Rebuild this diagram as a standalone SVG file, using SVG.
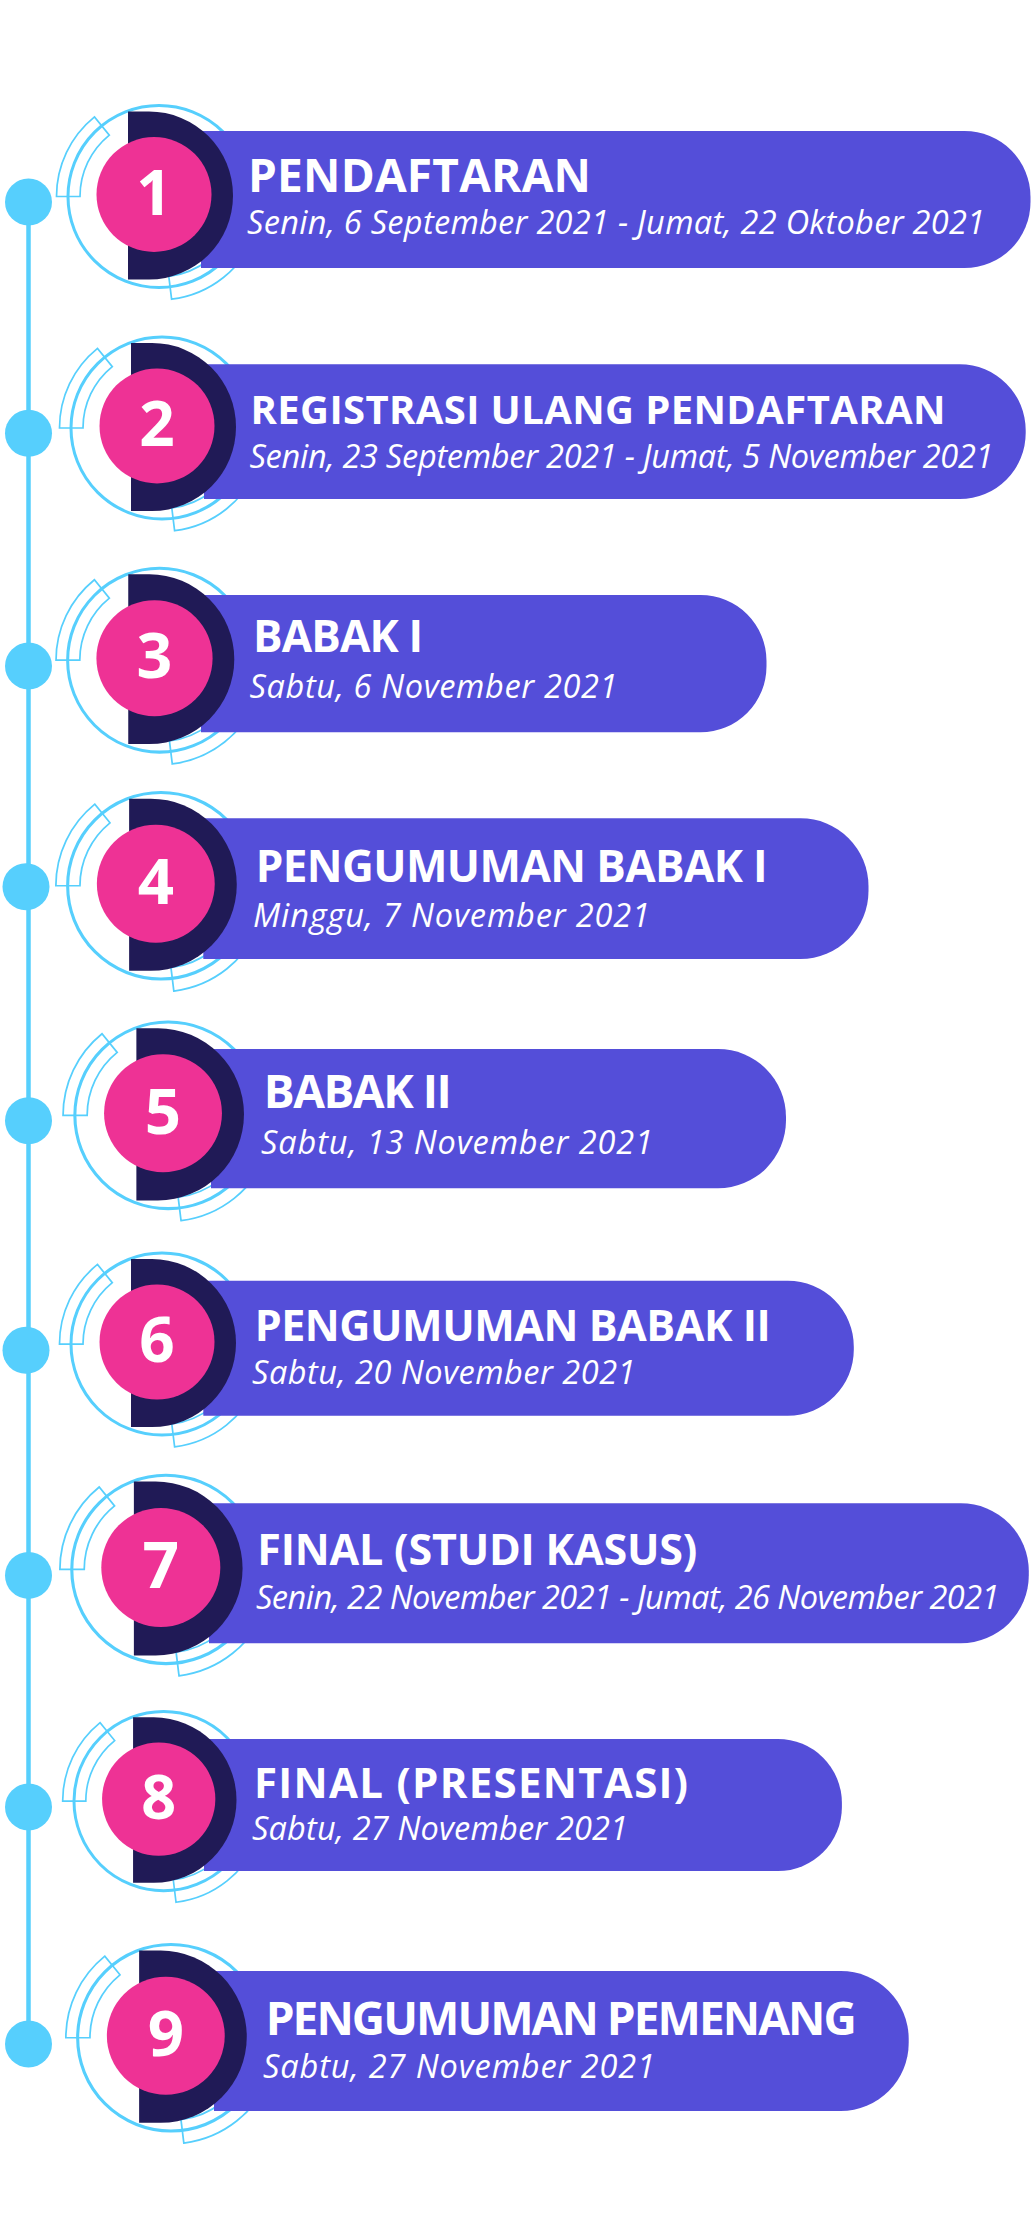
<svg xmlns="http://www.w3.org/2000/svg" xmlns:xlink="http://www.w3.org/1999/xlink" width="1035" height="2240" viewBox="0 0 1035 2240">
<style>
.ring{fill:none;stroke:#56cffd;stroke-width:3}
.band{fill:none;stroke:#56cffd;stroke-width:1.7}
.bar{fill:#544ed9}
.dee{fill:#201a56}
.pink{fill:#ee3295}
.dot{fill:#56cffd}
.num{font-family:"Open Sans","Noto Sans",sans-serif;font-weight:700;fill:#fff;text-anchor:middle}
.title{font-family:"Open Sans","Noto Sans",sans-serif;font-weight:700;fill:#fff}
.sub{font-family:"Open Sans","Noto Sans",sans-serif;font-style:italic;font-weight:400;fill:#fff;font-size:32.5px}
</style>
<defs>
<g id="rings">
<circle class="ring" cx="5" cy="2" r="91"/>
<path class="band" d="M-97.5 2A102.5 102.5 0 0 1-59.5-77.65L-44.7-59.4A79 79 0 0 0-74 2Z"/>
<path class="band" d="M102.26 37.4A103.5 103.5 0 0 1 17.6 104.7L14.8 81.9A80.5 80.5 0 0 0 80.6 29.5Z"/>
</g>
<g id="disc">
<path class="dee" d="M-26-83H-5A84 84 0 0 1-5 85H-26Z"/>
<circle class="pink" cx="0" cy="0" r="57.5"/>
</g>
</defs>
<rect width="1035" height="2240" fill="#fff"/>
<g id="connectors">
<line x1="28.5" y1="202" x2="28.5" y2="2044" stroke="#56cffd" stroke-width="4.5"/>
</g>
<g id="node-1">
<circle class="dot" cx="28.5" cy="202" r="23.5"/>
<use xlink:href="#rings" transform="translate(154 194.5)"/>
<path class="bar" d="M201 131H964.5A66 66 0 0 1 1030.5 197V202A66 66 0 0 1 964.5 268H201Z"/>
<use xlink:href="#disc" transform="translate(154 194.5)"/>
<text class="num" x="154" y="214.5" font-size="62">1</text>
<text class="title" x="248" y="191.7" font-size="46" textLength="343">PENDAFTARAN</text>
<text class="sub" x="247" y="234" textLength="738">Senin, 6 September 2021 - Jumat, 22 Oktober 2021</text>
</g>
<g id="node-2">
<circle class="dot" cx="28.5" cy="433.3" r="23.5"/>
<use xlink:href="#rings" transform="translate(157 426)"/>
<path class="bar" d="M204 364.3H959.7A66 66 0 0 1 1025.7 430.3V433A66 66 0 0 1 959.7 499H204Z"/>
<use xlink:href="#disc" transform="translate(157 426)"/>
<text class="num" x="157" y="446" font-size="62">2</text>
<text class="title" x="250.5" y="424.3" font-size="40" textLength="695">REGISTRASI ULANG PENDAFTARAN</text>
<text class="sub" x="249.5" y="468.3" textLength="744">Senin, 23 September 2021 - Jumat, 5 November 2021</text>
</g>
<g id="node-3">
<circle class="dot" cx="28.5" cy="666" r="23.5"/>
<use xlink:href="#rings" transform="translate(154.5 658.2) scale(1.01)"/>
<path class="bar" d="M201 595H700.5A66 66 0 0 1 766.5 661V666.3A66 66 0 0 1 700.5 732.3H201Z"/>
<use xlink:href="#disc" transform="translate(154.5 658.2) scale(1.01)"/>
<text class="num" x="154.5" y="678.4" font-size="62.6">3</text>
<text class="title" x="253" y="652.3" font-size="44" textLength="170">BABAK I</text>
<text class="sub" x="249.5" y="697.7" textLength="368">Sabtu, 6 November 2021</text>
</g>
<g id="node-4">
<circle class="dot" cx="26" cy="886.7" r="23.5"/>
<use xlink:href="#rings" transform="translate(155.8 883.7) scale(1.025)"/>
<path class="bar" d="M203.3 818.3H800.5A68 68 0 0 1 868.5 886.3V891A68 68 0 0 1 800.5 959H203.3Z"/>
<use xlink:href="#disc" transform="translate(155.8 883.7) scale(1.025)"/>
<text class="num" x="155.8" y="904.2" font-size="63.5">4</text>
<text class="title" x="255.7" y="881.7" font-size="44" textLength="512">PENGUMUMAN BABAK I</text>
<text class="sub" x="253" y="926.7" textLength="397">Minggu, 7 November 2021</text>
</g>
<g id="node-5">
<circle class="dot" cx="28.5" cy="1120.7" r="23.5"/>
<use xlink:href="#rings" transform="translate(163 1113.3) scale(1.025)"/>
<path class="bar" d="M211 1049H718A68 68 0 0 1 786 1117V1120.3A68 68 0 0 1 718 1188.3H211Z"/>
<use xlink:href="#disc" transform="translate(163 1113.3) scale(1.025)"/>
<text class="num" x="163" y="1133.8" font-size="63.5">5</text>
<text class="title" x="263.7" y="1108.3" font-size="46" textLength="188">BABAK II</text>
<text class="sub" x="261" y="1154.3" textLength="392">Sabtu, 13 November 2021</text>
</g>
<g id="node-6">
<circle class="dot" cx="26" cy="1350.3" r="23.5"/>
<use xlink:href="#rings" transform="translate(157 1342.1)"/>
<path class="bar" d="M203.3 1280.7H787.8A66 66 0 0 1 853.8 1346.7V1349.7A66 66 0 0 1 787.8 1415.7H203.3Z"/>
<use xlink:href="#disc" transform="translate(157 1342.1)"/>
<text class="num" x="157" y="1362.1" font-size="62">6</text>
<text class="title" x="254.7" y="1341" font-size="43" textLength="516">PENGUMUMAN BABAK II</text>
<text class="sub" x="252" y="1384.4" textLength="383.5">Sabtu, 20 November 2021</text>
</g>
<g id="node-7">
<circle class="dot" cx="28.5" cy="1575.4" r="23.5"/>
<use xlink:href="#rings" transform="translate(160.8 1567.4) scale(1.035)"/>
<path class="bar" d="M209 1503.3H960.8A68 68 0 0 1 1028.8 1571.3V1575.3A68 68 0 0 1 960.8 1643.3H209Z"/>
<use xlink:href="#disc" transform="translate(160.8 1567.4) scale(1.035)"/>
<text class="num" x="160.8" y="1588.1" font-size="64">7</text>
<text class="title" x="257.3" y="1565" font-size="43" textLength="440">FINAL (STUDI KASUS)</text>
<text class="sub" x="256" y="1609" textLength="743.5">Senin, 22 November 2021 - Jumat, 26 November 2021</text>
</g>
<g id="node-8">
<circle class="dot" cx="28.5" cy="1807" r="23.5"/>
<use xlink:href="#rings" transform="translate(158.7 1799.1) scale(0.985)"/>
<path class="bar" d="M204 1739H777.9A64 64 0 0 1 841.9 1803V1807A64 64 0 0 1 777.9 1871H204Z"/>
<use xlink:href="#disc" transform="translate(158.7 1799.1) scale(0.985)"/>
<text class="num" x="158.7" y="1818.8" font-size="61">8</text>
<text class="title" x="254" y="1797.7" font-size="42" textLength="434">FINAL (PRESENTASI)</text>
<text class="sub" x="252" y="1839.7" textLength="376">Sabtu, 27 November 2021</text>
</g>
<g id="node-9">
<circle class="dot" cx="28.5" cy="2044" r="23.5"/>
<use xlink:href="#rings" transform="translate(165.8 2035.7) scale(1.025)"/>
<path class="bar" d="M214 1971H840.7A68 68 0 0 1 908.7 2039V2043A68 68 0 0 1 840.7 2111H214Z"/>
<use xlink:href="#disc" transform="translate(165.8 2035.7) scale(1.025)"/>
<text class="num" x="165.8" y="2056.2" font-size="63.5">9</text>
<text class="title" x="265.7" y="2035" font-size="46" textLength="591">PENGUMUMAN PEMENANG</text>
<text class="sub" x="263" y="2078.3" textLength="392">Sabtu, 27 November 2021</text>
</g>
</svg>
